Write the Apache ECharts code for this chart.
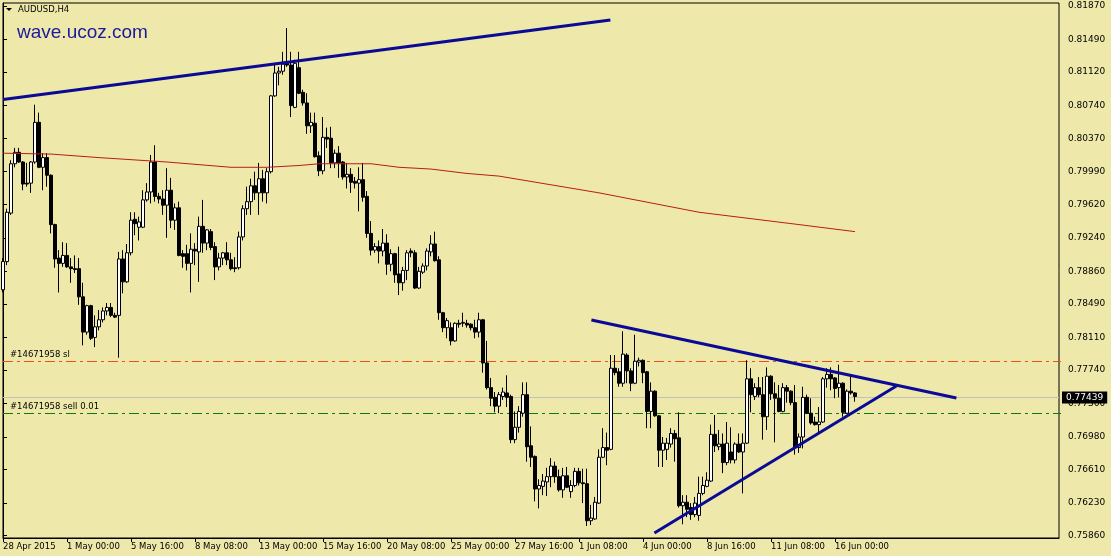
<!DOCTYPE html>
<html><head><meta charset="utf-8">
<script src="https://cdn.jsdelivr.net/npm/echarts@6/dist/echarts.min.js"></script>
<style>html,body{margin:0;padding:0;background:#EEE8AA;}#c{width:1111px;height:556px;}</style>
</head><body><div id="c"></div>
<script>
const symbolName = 'AUDUSD,H4';
const watermark = 'wave.ucoz.com';
// [open, close, low, high] per H4 bar
const bars = [
[0.7865,0.7897,0.7862,0.7901],[0.7897,0.7953,0.7893,0.7957],[0.7952,0.8008,0.7950,0.8012],[0.8008,0.8021,0.8004,0.8026],
[0.8021,0.8010,0.8009,0.8026],[0.8010,0.7985,0.7978,0.8011],[0.7986,0.7985,0.7982,0.8009],[0.7986,0.8010,0.7975,0.8011],
[0.8010,0.8055,0.8008,0.8075],[0.8055,0.8004,0.8003,0.8066],[0.8004,0.8015,0.7978,0.8020],[0.8015,0.7995,0.7982,0.8020],
[0.7995,0.7939,0.7929,0.7996],[0.7939,0.7900,0.7890,0.7940],[0.7901,0.7895,0.7862,0.7910],[0.7895,0.7904,0.7891,0.7919],
[0.7904,0.7891,0.7890,0.7918],[0.7891,0.7889,0.7873,0.7901],[0.7889,0.7888,0.7884,0.7904],[0.7889,0.7857,0.7848,0.7901],
[0.7857,0.7817,0.7802,0.7873],[0.7817,0.7847,0.7814,0.7848],[0.7847,0.7810,0.7808,0.7848],[0.7811,0.7823,0.7800,0.7836],
[0.7823,0.7831,0.7819,0.7842],[0.7831,0.7841,0.7828,0.7845],[0.7841,0.7845,0.7836,0.7850],[0.7845,0.7836,0.7834,0.7850],
[0.7836,0.7834,0.7833,0.7839],[0.7836,0.7900,0.7788,0.7908],[0.7900,0.7874,0.7861,0.7910],[0.7874,0.7907,0.7873,0.7917],
[0.7907,0.7944,0.7904,0.7953],[0.7945,0.7940,0.7927,0.7953],[0.7936,0.7942,0.7921,0.7948],[0.7936,0.7967,0.7935,0.7978],
[0.7967,0.7976,0.7965,0.7986],[0.7976,0.8010,0.7963,0.8018],[0.8010,0.7971,0.7965,0.8029],[0.7971,0.7968,0.7963,0.7975],
[0.7968,0.7961,0.7950,0.7978],[0.7961,0.7978,0.7924,0.8003],[0.7978,0.7944,0.7935,0.7992],[0.7944,0.7958,0.7933,0.7963],
[0.7958,0.7904,0.7903,0.7965],[0.7906,0.7903,0.7890,0.7910],[0.7906,0.7895,0.7887,0.7916],[0.7895,0.7911,0.7862,0.7929],
[0.7911,0.7909,0.7893,0.7918],[0.7908,0.7937,0.7874,0.7948],[0.7937,0.7918,0.7907,0.7967],[0.7918,0.7933,0.7910,0.7934],
[0.7931,0.7913,0.7910,0.7934],[0.7914,0.7891,0.7876,0.7919],[0.7891,0.7901,0.7887,0.7907],[0.7901,0.7907,0.7893,0.7908],
[0.7907,0.7899,0.7893,0.7919],[0.7899,0.7889,0.7887,0.7907],[0.7890,0.7889,0.7885,0.7902],[0.7890,0.7925,0.7888,0.7931],
[0.7925,0.7957,0.7921,0.7961],[0.7957,0.7965,0.7950,0.7982],[0.7965,0.7983,0.7950,0.7991],[0.7983,0.7975,0.7967,0.7999],
[0.7975,0.7991,0.7950,0.8009],[0.7991,0.7975,0.7965,0.8001],[0.7975,0.7999,0.7963,0.8003],[0.7999,0.8085,0.7997,0.8086],
[0.8085,0.8111,0.8084,0.8122],[0.8111,0.8113,0.8097,0.8118],[0.8113,0.8121,0.8109,0.8135],[0.8122,0.8120,0.8118,0.8162],
[0.8120,0.8074,0.8061,0.8135],[0.8072,0.8122,0.8071,0.8126],[0.8117,0.8088,0.8087,0.8135],[0.8089,0.8077,0.8074,0.8092],
[0.8077,0.8051,0.8042,0.8088],[0.8051,0.8055,0.8043,0.8066],[0.8054,0.8016,0.8015,0.8066],[0.8017,0.8000,0.7994,0.8022],
[0.8000,0.8038,0.7996,0.8061],[0.8038,0.8036,0.8026,0.8049],[0.8037,0.8009,0.8003,0.8050],[0.8009,0.8020,0.8003,0.8024],
[0.8020,0.8009,0.7992,0.8028],[0.8010,0.7993,0.7990,0.8011],[0.7993,0.7996,0.7980,0.8009],[0.7996,0.7987,0.7975,0.8003],
[0.7988,0.7986,0.7980,0.7993],[0.7986,0.7990,0.7954,0.8004],[0.7990,0.7970,0.7965,0.8009],[0.7971,0.7929,0.7924,0.7977],
[0.7929,0.7910,0.7904,0.7943],[0.7910,0.7914,0.7907,0.7918],[0.7914,0.7909,0.7895,0.7921],[0.7909,0.7918,0.7903,0.7934],
[0.7918,0.7894,0.7882,0.7928],[0.7894,0.7906,0.7886,0.7911],[0.7906,0.7882,0.7873,0.7907],[0.7883,0.7873,0.7859,0.7914],
[0.7873,0.7887,0.7864,0.7891],[0.7887,0.7907,0.7876,0.7910],[0.7909,0.7907,0.7902,0.7912],[0.7907,0.7867,0.7866,0.7910],
[0.7867,0.7886,0.7866,0.7891],[0.7885,0.7892,0.7883,0.7895],[0.7892,0.7909,0.7887,0.7912],[0.7908,0.7917,0.7903,0.7927],
[0.7917,0.7898,0.7897,0.7931],[0.7899,0.7839,0.7831,0.7903],[0.7839,0.7822,0.7817,0.7840],[0.7822,0.7830,0.7810,0.7833],
[0.7822,0.7807,0.7802,0.7828],[0.7807,0.7827,0.7806,0.7828],[0.7827,0.7826,0.7822,0.7831],[0.7827,0.7828,0.7823,0.7839],
[0.7827,0.7825,0.7822,0.7831],[0.7826,0.7822,0.7819,0.7827],[0.7822,0.7817,0.7810,0.7831],[0.7817,0.7831,0.7811,0.7839],
[0.7831,0.7782,0.7771,0.7832],[0.7782,0.7754,0.7752,0.7807],[0.7754,0.7742,0.7733,0.7765],[0.7743,0.7733,0.7726,0.7749],
[0.7733,0.7746,0.7725,0.7749],[0.7744,0.7749,0.7740,0.7754],[0.7748,0.7743,0.7732,0.7768],[0.7744,0.7695,0.7691,0.7746],
[0.7695,0.7709,0.7691,0.7727],[0.7709,0.7727,0.7703,0.7733],[0.7725,0.7746,0.7721,0.7760],[0.7746,0.7687,0.7670,0.7760],
[0.7688,0.7675,0.7664,0.7710],[0.7676,0.7639,0.7625,0.7677],[0.7639,0.7643,0.7617,0.7650],[0.7642,0.7648,0.7632,0.7656],
[0.7647,0.7653,0.7631,0.7663],[0.7653,0.7665,0.7641,0.7674],[0.7665,0.7653,0.7646,0.7670],[0.7653,0.7638,0.7636,0.7661],
[0.7638,0.7654,0.7629,0.7663],[0.7654,0.7641,0.7640,0.7664],[0.7636,0.7643,0.7629,0.7649],[0.7643,0.7659,0.7641,0.7663],
[0.7659,0.7646,0.7643,0.7663],[0.7646,0.7645,0.7623,0.7662],[0.7645,0.7603,0.7597,0.7662],[0.7603,0.7606,0.7598,0.7621],
[0.7605,0.7624,0.7604,0.7630],[0.7623,0.7675,0.7622,0.7684],[0.7675,0.7686,0.7674,0.7708],[0.7686,0.7683,0.7666,0.7703],
[0.7684,0.7776,0.7683,0.7791],[0.7776,0.7771,0.7768,0.7791],[0.7772,0.7759,0.7755,0.7776],[0.7759,0.7792,0.7755,0.7818],
[0.7791,0.7773,0.7759,0.7793],[0.7773,0.7759,0.7750,0.7776],[0.7759,0.7784,0.7758,0.7814],[0.7783,0.7785,0.7778,0.7788],
[0.7785,0.7771,0.7759,0.7786],[0.7772,0.7727,0.7708,0.7773],[0.7727,0.7750,0.7708,0.7760],[0.7750,0.7722,0.7721,0.7751],
[0.7722,0.7683,0.7664,0.7723],[0.7683,0.7691,0.7664,0.7698],[0.7684,0.7691,0.7672,0.7697],[0.7690,0.7702,0.7686,0.7708],
[0.7702,0.7696,0.7670,0.7706],[0.7697,0.7620,0.7618,0.7726],[0.7620,0.7624,0.7599,0.7632],[0.7624,0.7616,0.7607,0.7632],
[0.7618,0.7610,0.7604,0.7623],[0.7610,0.7623,0.7607,0.7630],[0.7609,0.7634,0.7603,0.7653],[0.7634,0.7643,0.7632,0.7653],
[0.7642,0.7649,0.7641,0.7658],[0.7648,0.7701,0.7647,0.7712],[0.7701,0.7688,0.7681,0.7723],[0.7687,0.7690,0.7683,0.7706],
[0.7690,0.7669,0.7657,0.7702],[0.7669,0.7691,0.7666,0.7715],[0.7681,0.7672,0.7668,0.7709],[0.7672,0.7690,0.7668,0.7692],
[0.7690,0.7681,0.7680,0.7702],[0.7681,0.7691,0.7634,0.7702],[0.7691,0.7764,0.7690,0.7785],[0.7764,0.7746,0.7726,0.7776],
[0.7744,0.7754,0.7740,0.7759],[0.7754,0.7746,0.7743,0.7766],[0.7746,0.7721,0.7695,0.7766],[0.7721,0.7767,0.7706,0.7777],
[0.7767,0.7747,0.7740,0.7768],[0.7747,0.7742,0.7692,0.7760],[0.7742,0.7727,0.7726,0.7757],[0.7727,0.7754,0.7726,0.7759],
[0.7754,0.7750,0.7737,0.7757],[0.7750,0.7737,0.7734,0.7751],[0.7737,0.7686,0.7678,0.7757],[0.7686,0.7698,0.7680,0.7702],
[0.7698,0.7743,0.7685,0.7755],[0.7743,0.7725,0.7724,0.7746],[0.7725,0.7714,0.7712,0.7742],[0.7715,0.7712,0.7711,0.7721],
[0.7712,0.7715,0.7703,0.7732],[0.7715,0.7764,0.7714,0.7766],[0.7764,0.7769,0.7754,0.7776],[0.7769,0.7764,0.7751,0.7777],
[0.7765,0.7753,0.7742,0.7766],[0.7754,0.7759,0.7743,0.7780],[0.7759,0.7726,0.7721,0.7760],[0.7725,0.7750,0.7724,0.7752],
[0.7750,0.7748,0.7746,0.7768],[0.7748,0.77439,0.7738,0.7749]
];
// moving average (red) read at bar positions
const maIndex  = [0, 12, 24, 41, 57, 66, 74, 79, 92, 99, 107, 116, 124, 149, 174, 199, 213];
const maValues = [0.8020,0.8019,0.8015,0.8010,0.8004,0.8004,0.8006,0.8008,0.8008,0.8004,0.8002,0.7997,0.7994,0.7975,0.7953,0.7939,0.7931];
// trend lines: [barIndex, price]
const upperTrend = [[0, 0.8081], [151.85, 0.81711]];
const fallTrend  = [[147.1, 0.78307], [238.35, 0.77422]];
const riseTrend  = [[162.85, 0.75891], [223.35, 0.77558]];
// order levels
const bidPrice = 0.77439;
const slPrice = 0.77837;
const entryPrice = 0.77247;
const slLabel = '#14671958 sl';
const entryLabel = '#14671958 sell 0.01';
// axis labels
const yTickLabels = ['0.81870','0.81490','0.81120','0.80740','0.80370','0.79990','0.79620','0.79240','0.78860','0.78490','0.78110','0.77740','0.77360','0.76980','0.76610','0.76230','0.75860'];
const xTickLabels = ['28 Apr 2015','1 May 00:00','5 May 16:00','8 May 08:00','13 May 00:00','15 May 16:00','20 May 08:00','25 May 00:00','27 May 16:00','1 Jun 08:00','4 Jun 00:00','8 Jun 16:00','11 Jun 08:00','16 Jun 00:00'];
const xTickIndex = [0,16,32,48,64,80,96,112,128,144,160,176,192,208];
const totalSlots = 265;

const FONT = "'DejaVu Sans', Tahoma, sans-serif";
const labelAt = {};
xTickIndex.forEach((ix, k) => { labelAt[ix] = xTickLabels[k]; });
const cats = [];
for (let i = 0; i < totalSlots; i++) cats.push('b' + i);
const yTickValues = yTickLabels.map(Number);
const lastSlot = totalSlots - 1;

const chart = echarts.init(document.getElementById('c'), null, {renderer: 'canvas'});
chart.setOption({
  animation: false,
  backgroundColor: '#EEE8AA',
  grid: {left: 3, right: 52, top: 3, bottom: 18, show: true, borderColor: '#000', borderWidth: 1},
  xAxis: [{
    type: 'category', data: cats, boundaryGap: false,
    axisLine: {show: true, lineStyle: {color: '#000', width: 1}},
    axisTick: {show: true, length: 4, lineStyle: {color: '#000'}, interval: (i) => labelAt[i] !== undefined},
    axisLabel: {show: true, interval: (i) => labelAt[i] !== undefined, formatter: (v, i) => labelAt[i] || '',
      align: 'left', color: '#000', fontSize: 8.5, fontFamily: FONT, margin: 4},
    splitLine: {show: false}
  }, {
    type: 'value', min: 0, max: lastSlot, show: false
  }],
  yAxis: {
    type: 'value', position: 'right', min: 0.75834, max: 0.81904, scale: true,
    splitLine: {show: false},
    axisLine: {show: true, lineStyle: {color: '#000'}},
    axisTick: {show: true, length: 4, lineStyle: {color: '#000'}, customValues: yTickValues},
    axisLabel: {customValues: yTickValues, formatter: (v) => Number(v).toFixed(5), color: '#000', fontSize: 9, fontFamily: FONT, margin: 9}
  },
  series: [
    {
      type: 'candlestick', xAxisIndex: 0, data: bars, barWidth: 3, z: 2,
      itemStyle: {color: '#FFFFFF', color0: '#000000', borderColor: '#000000', borderColor0: '#000000', borderWidth: 1}
    },
    {type: 'line', xAxisIndex: 1, data: maIndex.map((ix, k) => [ix, maValues[k]]), symbol: 'none', z: 3,
      lineStyle: {color: '#B81C1C', width: 1}},
    {type: 'line', xAxisIndex: 1, data: upperTrend, symbol: 'none', z: 4, lineStyle: {color: '#0A0A96', width: 3}},
    {type: 'line', xAxisIndex: 1, data: fallTrend, symbol: 'none', z: 4, lineStyle: {color: '#0A0A96', width: 3}},
    {type: 'line', xAxisIndex: 1, data: riseTrend, symbol: 'none', z: 4, lineStyle: {color: '#0A0A96', width: 3}}
  ]
});
// horizontal order / price levels, placed with the y axis scale and snapped to whole pixels
const crisp = (p) => Math.round(chart.convertToPixel({yAxisIndex: 0}, p)) + 0.5;
const xL = chart.convertToPixel({xAxisIndex: 1}, 0);
const xR = chart.convertToPixel({xAxisIndex: 1}, lastSlot);
const yBid = crisp(bidPrice), ySl = crisp(slPrice), yEn = crisp(entryPrice);
chart.setOption({
  graphic: [
    {type: 'line', z: 1, shape: {x1: xL, y1: yBid, x2: xR, y2: yBid}, style: {stroke: '#C0C0C0', lineWidth: 1}},
    {type: 'line', z: 1, shape: {x1: xL, y1: ySl, x2: xR + 2, y2: ySl}, style: {stroke: '#F2500F', lineWidth: 1, lineDash: [10, 4, 3, 4]}},
    {type: 'line', z: 1, shape: {x1: xL, y1: yEn, x2: xR + 2, y2: yEn}, style: {stroke: '#0E7A0E', lineWidth: 1, lineDash: [10, 4, 3, 4]}},
    {type: 'text', z: 10, x: xR + 3, y: yBid, style: {text: bidPrice.toFixed(5), fill: '#fff', backgroundColor: '#000',
      padding: [2, 4, 1, 4], font: '9px ' + FONT, verticalAlign: 'middle'}},
    {type: 'polygon', shape: {points: [[6, 8], [12, 8], [9, 11]]}, style: {fill: '#000'}},
    {type: 'text', x: 18, y: 5, style: {text: symbolName, fill: '#000', font: '8.5px ' + FONT}},
    {type: 'text', x: 17, y: 23, style: {text: watermark, fill: '#1A1A9E', font: '19px "Liberation Sans", Arial, sans-serif',
      textShadowColor: 'rgba(90,90,150,0.55)', textShadowOffsetX: 2, textShadowOffsetY: 2, textShadowBlur: 0}},
    {type: 'text', x: 10, y: ySl - 2, style: {text: slLabel, fill: '#000', font: '8.5px ' + FONT, verticalAlign: 'bottom'}},
    {type: 'text', x: 10, y: yEn - 2, style: {text: entryLabel, fill: '#000', font: '8.5px ' + FONT, verticalAlign: 'bottom'}}
  ]
});
</script></body></html>
